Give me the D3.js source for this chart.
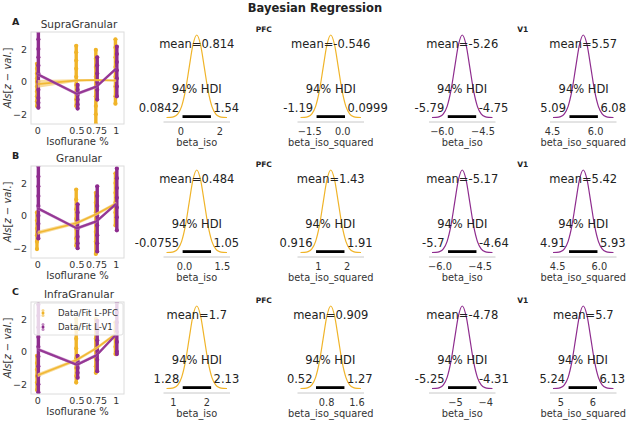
<!DOCTYPE html>
<html><head><meta charset="utf-8">
<script src="https://cdn.jsdelivr.net/npm/d3@7"></script>
<style>
html,body{margin:0;padding:0;background:#fff;}
text{font-family:"DejaVu Sans",sans-serif;}
</style></head>
<body><svg id="chart" width="630" height="422"></svg>
<script>
// ---------------- data ----------------
const rowTitles = ["SupraGranular", "Granular", "InfraGranular"];
const rowLetters = ["A", "B", "C"];
const isoLevels = [0, 0.5, 0.75, 1];
const isoTickLabels = ["0", "0.5", "0.75", "1"];
const yTicks = [-2, 0, 2];
const seriesNames = ["Data/Fit L-PFC", "Data/Fit L-V1"];

// scatter strips: [row][isoLevel] -> values
const pfcData = [
  [[1.1,0.8,0.5,0.2,0.0,-0.3,-0.6,-0.9,-1.2,-1.5],
   [2.2,1.8,1.3,0.8,0.3,-0.2,-0.7,-1.1,-1.5],
   [1.95,1.4,0.9,0.3,-0.3,-0.9,-1.5,-2.0,-2.6],
   [2.6,2.1,1.5,0.9,0.3,-0.3,-0.9,-1.35]],
  [[0.2,-0.3,-0.8,-1.2,-1.6,-2.05],
   [1.6,1.0,0.4,-0.2,-0.8,-1.4,-1.85],
   [1.4,0.8,0.2,-0.4,-1.0,-1.6,-2.35],
   [2.6,2.0,1.4,0.8,0.2,-0.6]],
  [[-0.25,-0.7,-1.1,-1.5,-1.9,-2.35],
   [2.0,1.4,0.8,0.2,-0.4,-1.0,-1.5,-1.9],
   [2.0,1.4,0.8,0.2,-0.4,-0.9,-1.3],
   [1.8,1.3,0.8,0.3,-0.15]]
];
const v1Data = [
  [[3.1,2.6,2.0,1.5,1.0,0.5,0.0,-0.5,-1.0,-1.3,-1.6],
   [-0.2,-0.5,-0.8,-1.1,-1.4,-1.65],
   [1.5,1.0,0.5,0.0,-0.5,-1.1],
   [2.15,1.7,1.2,0.7,0.2,-0.3,-0.9]],
  [[3.05,2.4,1.8,1.2,0.6,0.0,-0.5,-1.0,-1.4],
   [0.7,0.2,-0.3,-0.8,-1.3,-1.7,-2.0],
   [1.8,1.2,0.6,0.0,-0.6,-1.2,-1.7,-2.2],
   [2.9,2.3,1.7,1.1,0.5,-0.1,-0.9]],
  [[2.9,2.2,1.5,0.9,0.3,-0.3,-0.9,-1.5,-2.0,-2.5],
   [-0.25,-0.6,-1.0,-1.3,-1.6],
   [1.9,1.3,0.7,0.1,-0.5,-1.2],
   [3.0,2.4,1.8,1.2,0.6,0.0,-0.15]]
];
// fitted lines (mid, low, high) per row at isoLevels
const pfcFitMid = [[-0.15,0.08,0.1,0.07],[-1.05,-0.45,0.1,0.75],[-1.45,-0.5,0.22,1.1]];
const pfcFitLo  = [[-0.38,0.0,0.03,0.0],[-1.17,-0.55,0.0,0.65],[-1.57,-0.6,0.12,1.0]];
const pfcFitHi  = [[0.1,0.15,0.17,0.14],[-0.93,-0.35,0.2,0.85],[-1.33,-0.4,0.32,1.2]];
const v1FitMid  = [[0.45,-0.75,-0.3,0.8],[0.45,-0.78,-0.35,0.72],[0.15,-0.8,-0.22,1.05]];
const v1FitLo   = [[0.35,-0.85,-0.4,0.7],[0.35,-0.88,-0.45,0.62],[0.05,-0.9,-0.32,0.95]];
const v1FitHi   = [[0.55,-0.65,-0.2,0.9],[0.55,-0.68,-0.25,0.82],[0.25,-0.7,-0.12,1.15]];

// posterior panels: [row][col]  col: PFC beta_iso, PFC beta_iso_squared, V1 beta_iso, V1 beta_iso_squared
const paramNames = ["beta_iso", "beta_iso_squared", "beta_iso", "beta_iso_squared"];
const regionNames = ["PFC", "V1"];
const postMean = [[0.814,-0.546,-5.26,5.57],[0.484,1.43,-5.17,5.42],[1.7,0.909,-4.78,5.7]];
const hdiLow   = [[0.0842,-1.19,-5.79,5.09],[-0.0755,0.916,-5.7,4.91],[1.28,0.52,-5.25,5.24]];
const hdiHigh  = [[1.54,0.0999,-4.75,6.08],[1.05,1.91,-4.64,5.93],[2.13,1.27,-4.31,6.13]];
const postTicks = [
  [[0,2],[-1.5,0],[-6,-4.5],[4.5,6]],
  [[0,1.5],[1,2],[-6,-4.5],[4.5,6]],
  [[1,2],[0.8,1.6],[-5,-4],[5,6]]
];
const postTickLabels = [
  [["0","2"],["\u22121.5","0.0"],["\u22126.0","\u22124.5"],["4.5","6.0"]],
  [["0.0","1.5"],["1","2"],["\u22126.0","\u22124.5"],["4.5","6.0"]],
  [["1","2"],["0.8","1.6"],["\u22125","\u22124"],["5","6"]]
];
// KDE shape (relative density at standardized offsets -4..4, step 0.5)
const kdeOffsets = [-4,-3.5,-3,-2.5,-2,-1.5,-1,-0.5,0,0.5,1,1.5,2,2.5,3,3.5,4];
const kdeShape   = [0.0003,0.0022,0.011,0.044,0.135,0.325,0.607,0.882,1,0.882,0.607,0.325,0.135,0.044,0.011,0.0022,0.0003];

// ---------------- style / layout ----------------
const ORANGE = "#F0B429", PURPLE = "#8E2C8E";
const ORANGE_BAND = "#F7D27E", PURPLE_BAND = "#C58CC5";
const TEXT = "#333";
const boxTop = [32, 166, 302], boxH = 92, boxL = 31, boxR = 124;
const spineY = [122, 257, 393];
const colLeft = [163.5, 297.5, 429, 550], axW = 66.5;

const svg = d3.select("#chart");

svg.append("text").attr("x", 315).attr("y", 11.5).attr("text-anchor", "middle")
  .attr("font-size", 11.5).attr("font-weight", "bold").attr("fill", "#222").text("Bayesian Regression");

const defs = svg.append("defs");

rowTitles.forEach((title, r) => {
  const top = boxTop[r], bot = top + boxH;
  const x = d3.scaleLinear().domain([-0.085, 1.1]).range([boxL, boxR]);
  const y = d3.scaleLinear().domain([-2.6, 3.05]).range([bot, top]);
  const g = svg.append("g");

  defs.append("clipPath").attr("id", "clip" + r).append("rect")
    .attr("x", boxL).attr("y", top).attr("width", boxR - boxL).attr("height", boxH);

  const plot = g.append("g").attr("clip-path", `url(#clip${r})`);

  // scatter strips
  const drawStrips = (data, color, dx) => {
    data[r].forEach((vals, i) => {
      const cx = x(isoLevels[i]) + dx;
      plot.append("line").attr("x1", cx).attr("x2", cx)
        .attr("y1", y(d3.max(vals))).attr("y2", y(d3.min(vals)))
        .attr("stroke", color).attr("stroke-width", 3.4).attr("stroke-linecap", "round");
      plot.selectAll(null).data(vals).join("circle")
        .attr("cx", cx).attr("cy", d => y(d)).attr("r", 2.1).attr("fill", color);
    });
  };
  drawStrips(pfcData, ORANGE, -0.7);
  drawStrips(v1Data, PURPLE, 0.7);

  // fits
  const drawFit = (mid, lo, hi, color, band, w) => {
    const area = d3.area().x((d, i) => x(isoLevels[i])).y0((d, i) => y(lo[r][i])).y1((d, i) => y(hi[r][i]));
    plot.append("path").attr("d", area(mid[r])).attr("fill", band).attr("opacity", 0.8);
    const line = d3.line().x((d, i) => x(isoLevels[i])).y(d => y(d));
    plot.append("path").attr("d", line(mid[r])).attr("fill", "none").attr("stroke", color)
      .attr("stroke-width", w).attr("opacity", 0.9);
  };
  drawFit(pfcFitMid, pfcFitLo, pfcFitHi, ORANGE, ORANGE_BAND, 1.6);
  drawFit(v1FitMid, v1FitLo, v1FitHi, PURPLE, PURPLE_BAND, 2.2);

  // frame
  g.append("rect").attr("x", boxL).attr("y", top).attr("width", boxR - boxL).attr("height", boxH)
    .attr("fill", "none").attr("stroke", "#dcdcdc").attr("stroke-width", 1);

  // ticks
  g.selectAll(null).data(yTicks).join("text")
    .attr("x", 27).attr("y", d => y(d) + 3.5).attr("text-anchor", "end")
    .attr("font-size", 9.5).attr("fill", TEXT).text(d => d < 0 ? "\u2212" + Math.abs(d) : d);
  g.selectAll(null).data(isoLevels).join("text")
    .attr("x", d => x(d)).attr("y", bot + 9.5).attr("text-anchor", "middle")
    .attr("font-size", 9.5).attr("fill", TEXT).text((d, i) => isoTickLabels[i]);
  g.append("text").attr("x", (boxL + boxR) / 2).attr("y", bot + 21).attr("text-anchor", "middle")
    .attr("font-size", 10).attr("fill", TEXT).text("Isoflurane %");

  // y label
  const yl = g.append("text").attr("transform", `translate(10.5,${(top + bot) / 2}) rotate(-90)`)
    .attr("text-anchor", "middle").attr("font-size", 10).attr("fill", TEXT);
  yl.append("tspan").attr("font-style", "italic").text("Als");
  yl.append("tspan").text("[");
  yl.append("tspan").attr("font-style", "italic").text("z");
  yl.append("tspan").text(" \u2212 ");
  yl.append("tspan").attr("font-style", "italic").text("val");
  yl.append("tspan").text(".]");

  // title + letter
  g.append("text").attr("x", 79).attr("y", top - 4).attr("text-anchor", "middle")
    .attr("font-size", 10.5).attr("fill", TEXT).text(title);
  g.append("text").attr("x", 12).attr("y", top - 7).attr("font-size", 9.5)
    .attr("font-weight", "bold").attr("fill", "#222").text(rowLetters[r]);

  // legend (last row)
  if (r === 2) {
    const lg = g.append("g");
    lg.append("rect").attr("x", 34).attr("y", top + 1).attr("width", 89).attr("height", 32).attr("rx", 2)
      .attr("fill", "#fff").attr("fill-opacity", 0.8).attr("stroke", "#e0e0e0");
    [ORANGE, PURPLE].forEach((c, k) => {
      const ly = top + 11 + k * 14;
      lg.selectAll(null).data([-2.5, 0, 2.5]).join("circle")
        .attr("cx", 43).attr("cy", d => ly + d).attr("r", 1.5).attr("fill", c)
        .attr("opacity", d => d === 0 ? 1 : 0.55);
      lg.append("text").attr("x", 58).attr("y", ly + 3).attr("font-size", 8.6)
        .attr("fill", TEXT).text(seriesNames[k]);
    });
  }

  // ---------------- posterior panels ----------------
  postMean[r].forEach((m, c) => {
    const sd = (hdiHigh[r][c] - hdiLow[r][c]) / 3.76;
    const s = spineY[r];
    const px = d3.scaleLinear().domain([m - 4.4 * sd, m + 4.4 * sd]).range([colLeft[c], colLeft[c] + axW]);
    const py = d3.scaleLinear().domain([0, 1]).range([s - 4.5, s - 87]);
    const color = c < 2 ? ORANGE : PURPLE;
    const pg = svg.append("g");

    pg.append("line").attr("x1", colLeft[c]).attr("x2", colLeft[c] + axW).attr("y1", s).attr("y2", s)
      .attr("stroke", "#c8c8c8").attr("stroke-width", 1);

    const line = d3.line().x((d, i) => px(m + kdeOffsets[i] * sd)).y(d => py(d)).curve(d3.curveMonotoneX);
    pg.append("path").attr("d", line(kdeShape)).attr("fill", "none").attr("stroke", color).attr("stroke-width", 1.2);

    const xl = px(hdiLow[r][c]), xh = px(hdiHigh[r][c]);
    pg.append("line").attr("x1", xl).attr("x2", xh).attr("y1", s - 5.4).attr("y2", s - 5.4)
      .attr("stroke", "#000").attr("stroke-width", 2.8);

    pg.append("text").attr("x", px(m)).attr("y", s - 74).attr("text-anchor", "middle")
      .attr("font-size", 11.5).attr("fill", "#222").text("mean=" + m);
    pg.append("text").attr("x", (xl + xh) / 2).attr("y", s - 29.5).attr("text-anchor", "middle")
      .attr("font-size", 11.5).attr("fill", "#222").text("94% HDI");
    pg.append("text").attr("x", xl - 3.5).attr("y", s - 10).attr("text-anchor", "end")
      .attr("font-size", 11.5).attr("fill", "#222").text(String(hdiLow[r][c]));
    pg.append("text").attr("x", xh + 2.5).attr("y", s - 10).attr("text-anchor", "start")
      .attr("font-size", 11.5).attr("fill", "#222").text(String(hdiHigh[r][c]));

    pg.selectAll(null).data(postTicks[r][c]).join("text")
      .attr("x", d => px(d)).attr("y", s + 12.5).attr("text-anchor", "middle")
      .attr("font-size", 9.8).attr("fill", TEXT).text((d, i) => postTickLabels[r][c][i]);
    pg.append("text").attr("x", colLeft[c] + axW / 2).attr("y", s + 23.5).attr("text-anchor", "middle")
      .attr("font-size", 9.8).attr("fill", TEXT).text(paramNames[c]);
  });

  // region titles
  regionNames.forEach((name, k) => {
    const cx = (colLeft[2 * k] + axW / 2 + colLeft[2 * k + 1] + axW / 2) / 2;
    svg.append("text").attr("x", cx).attr("y", spineY[r] - 90).attr("text-anchor", "middle")
      .attr("font-size", 7.5).attr("font-weight", "bold").attr("fill", "#222").text(name);
  });
});
</script></body></html>
